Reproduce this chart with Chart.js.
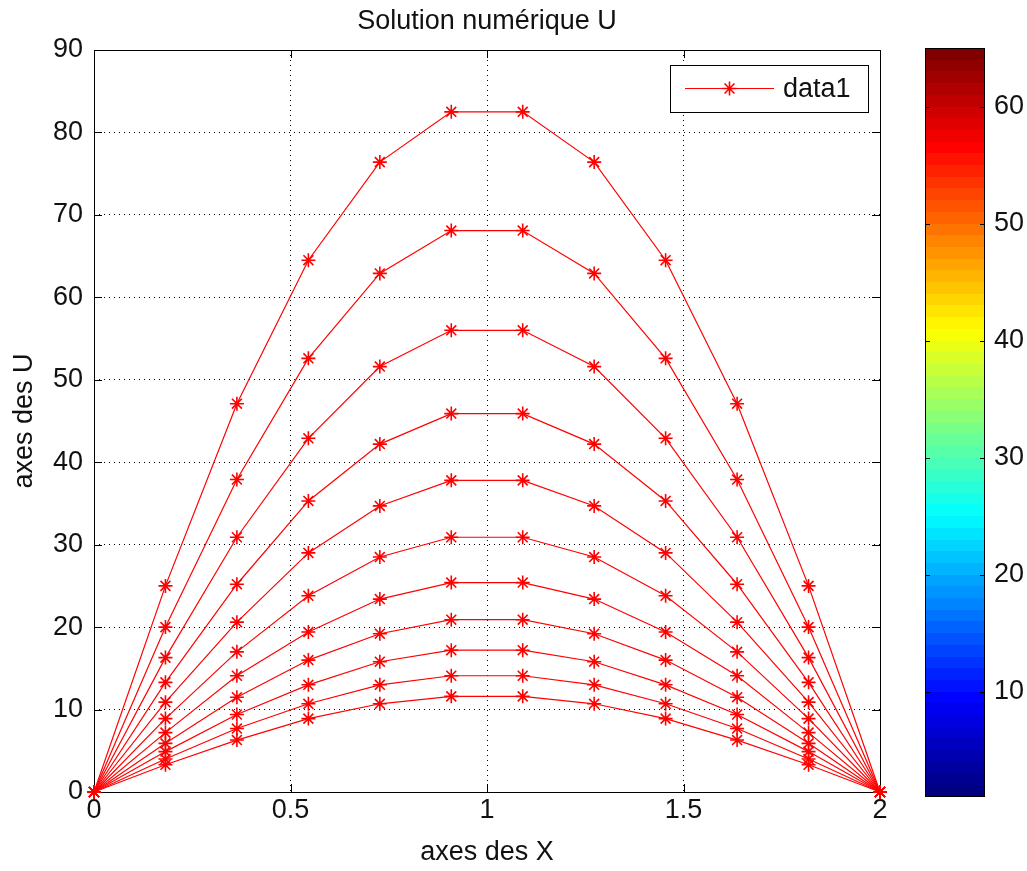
<!DOCTYPE html>
<html>
<head>
<meta charset="utf-8">
<script src="https://cdn.jsdelivr.net/npm/chart.js@4.4.1/dist/chart.umd.min.js"></script>
<style>
  html, body { margin: 0; padding: 0; background: #fff; }
  #wrap { position: relative; width: 1027px; height: 871px; }
  #mainChart { position: absolute; left: 0; top: 0; }
  #colorBar { position: absolute; left: 900px; top: 0; }
</style>
</head>
<body>
<div id="wrap">
  <canvas id="mainChart" width="1027" height="871"></canvas>
  <canvas id="colorBar" width="127" height="871"></canvas>
</div>
<script>
// x grid of the scheme
const xValues = [0, 0.1818, 0.3636, 0.5455, 0.7273, 0.9091, 1.0909, 1.2727, 1.4545, 1.6364, 1.8182, 2];

// U profiles, one per time step
const u1  = [0, 25.0, 47.1, 64.5, 76.4, 82.5, 82.5, 76.4, 64.5, 47.1, 25.0, 0];
const u2  = [0, 20.0, 37.9, 52.6, 62.9, 68.1, 68.1, 62.9, 52.6, 37.9, 20.0, 0];
const u3  = [0, 16.3, 30.9, 42.9, 51.6, 56.0, 56.0, 51.6, 42.9, 30.9, 16.3, 0];
const u4  = [0, 13.3, 25.2, 35.3, 42.2, 45.9, 45.9, 42.2, 35.3, 25.2, 13.3, 0];
const u5  = [0, 10.9, 20.6, 29.0, 34.7, 37.8, 37.8, 34.7, 29.0, 20.6, 10.9, 0];
const u6  = [0, 8.9, 17.0, 23.8, 28.5, 30.9, 30.9, 28.5, 23.8, 17.0, 8.9, 0];
const u7  = [0, 7.2, 14.1, 19.4, 23.4, 25.4, 25.4, 23.4, 19.4, 14.1, 7.2, 0];
const u8  = [0, 5.9, 11.5, 16.0, 19.2, 20.9, 20.9, 19.2, 16.0, 11.5, 5.9, 0];
const u9  = [0, 4.9, 9.4, 13.0, 15.8, 17.2, 17.2, 15.8, 13.0, 9.4, 4.9, 0];
const u10 = [0, 4.0, 7.7, 10.7, 13.0, 14.1, 14.1, 13.0, 10.7, 7.7, 4.0, 0];
const u11 = [0, 3.3, 6.3, 8.9, 10.7, 11.6, 11.6, 10.7, 8.9, 6.3, 3.3, 0];
const curves = [u1, u2, u3, u4, u5, u6, u7, u8, u9, u10, u11];

const xTicks = [0, 0.5, 1, 1.5, 2];
const yTicks = [0, 10, 20, 30, 40, 50, 60, 70, 80, 90];
const colorbarRange = [1, 65];
const colorbarTicks = [10, 20, 30, 40, 50, 60];

const FONT = "'Liberation Sans', Arial, Helvetica, sans-serif";
const TEXT = '#111';
const RED = 'rgb(255,0,0)';

Chart.defaults.font.family = FONT;
Chart.defaults.color = TEXT;

function jetColor(t) {
  const c = v => Math.round(255 * Math.min(1, Math.max(0, v)));
  return `rgb(${c(1.5 - Math.abs(4 * t - 3))},${c(1.5 - Math.abs(4 * t - 2))},${c(1.5 - Math.abs(4 * t - 1))})`;
}

function drawStar(ctx, x, y, r) {
  const d = r * Math.SQRT1_2;
  ctx.beginPath();
  ctx.moveTo(x - r, y); ctx.lineTo(x + r, y);
  ctx.moveTo(x, y - r); ctx.lineTo(x, y + r);
  ctx.moveTo(x - d, y - d); ctx.lineTo(x + d, y + d);
  ctx.moveTo(x - d, y + d); ctx.lineTo(x + d, y - d);
  ctx.stroke();
}

// axes box with inward ticks on all four sides
const boxPlugin = {
  id: 'box',
  beforeDatasetsDraw(chart) {
    const {ctx, chartArea: a, scales} = chart;
    ctx.save();
    ctx.strokeStyle = '#000';
    ctx.lineWidth = 1;
    ctx.strokeRect(a.left + 0.5, a.top + 0.5, a.right - a.left, a.bottom - a.top);
    ctx.beginPath();
    xTicks.forEach(v => {
      const px = Math.round(scales.x.getPixelForValue(v)) + 0.5;
      ctx.moveTo(px, a.bottom); ctx.lineTo(px, a.bottom - 8);
      ctx.moveTo(px, a.top); ctx.lineTo(px, a.top + 8);
    });
    yTicks.forEach(v => {
      const py = Math.round(scales.y.getPixelForValue(v)) + 0.5;
      ctx.moveTo(a.left, py); ctx.lineTo(a.left + 8, py);
      ctx.moveTo(a.right, py); ctx.lineTo(a.right - 8, py);
    });
    ctx.stroke();
    ctx.restore();
  }
};

// MATLAB style legend box in the upper right corner
const legendBoxPlugin = {
  id: 'legendBox',
  afterDraw(chart) {
    const {ctx} = chart;
    const x = 670, y = 65, w = 198, h = 47;
    ctx.save();
    ctx.fillStyle = '#fff';
    ctx.fillRect(x, y, w, h);
    ctx.strokeStyle = '#000';
    ctx.lineWidth = 1;
    ctx.strokeRect(x + 0.5, y + 0.5, w, h);
    const my = y + h / 2;
    ctx.strokeStyle = RED;
    ctx.lineWidth = 1.2;
    ctx.beginPath();
    ctx.moveTo(685, my); ctx.lineTo(774, my);
    ctx.stroke();
    ctx.lineWidth = 1.6;
    drawStar(ctx, 729.5, my, 7);
    ctx.fillStyle = TEXT;
    ctx.font = `27px ${FONT}`;
    ctx.textBaseline = 'middle';
    ctx.fillText(chart.data.datasets[0].label, 783, my + 1);
    ctx.restore();
  }
};

new Chart(document.getElementById('mainChart'), {
  type: 'line',
  data: {
    datasets: curves.map((u, i) => ({
      label: 'data' + (i + 1),
      data: xValues.map((x, j) => ({x: x, y: u[j]})),
      borderColor: RED,
      backgroundColor: RED,
      borderWidth: 1.2,
      pointStyle: 'star',
      pointRadius: 7,
      pointBorderColor: RED,
      pointBorderWidth: 1.6,
      clip: false,
    }))
  },
  options: {
    responsive: false,
    animation: false,
    events: [],
    layout: { padding: { left: 0, right: 147, top: 0, bottom: 0 } },
    plugins: {
      legend: { display: false },
      tooltip: { enabled: false },
      title: {
        display: true,
        text: 'Solution numérique U',
        fullSize: false,
        color: TEXT,
        font: { size: 27, weight: 'normal' },
        padding: { top: 5.5, bottom: 12.1 },
      },
    },
    scales: {
      x: {
        type: 'linear',
        min: 0,
        max: 2,
        afterBuildTicks: s => { s.ticks = xTicks.map(v => ({value: v})); },
        afterFit: s => { s.height = 79; },
        grid: { color: '#000', lineWidth: 1, drawTicks: false },
        border: { display: false, dash: [1, 4] },
        ticks: { font: { size: 27 }, color: TEXT, padding: 2, maxRotation: 0, callback: v => String(v) },
        title: { display: true, text: 'axes des X', color: TEXT, font: { size: 27 }, padding: { top: 0, bottom: 1.8 } },
      },
      y: {
        min: 0,
        max: 90,
        afterBuildTicks: s => { s.ticks = yTicks.map(v => ({value: v})); },
        afterFit: s => { s.width = 94; },
        grid: { color: '#000', lineWidth: 1, drawTicks: false },
        border: { display: false, dash: [1, 4] },
        ticks: { font: { size: 27 }, color: TEXT, padding: 11, callback: v => String(v) },
        title: { display: true, text: 'axes des U', color: TEXT, font: { size: 27 }, padding: { top: 8.8, bottom: 0 } },
      },
    },
  },
  plugins: [boxPlugin, legendBoxPlugin],
});

// colour bar: one floating bar painted with the jet colormap
const colorBarFrame = {
  id: 'colorBarFrame',
  afterDatasetsDraw(chart) {
    const {ctx, chartArea: a, scales} = chart;
    ctx.save();
    ctx.strokeStyle = '#000';
    ctx.lineWidth = 1;
    ctx.strokeRect(a.left + 0.5, a.top + 0.5, a.right - a.left - 1, a.bottom - a.top - 1);
    ctx.beginPath();
    colorbarTicks.forEach(v => {
      const py = Math.round(scales.y.getPixelForValue(v)) + 0.5;
      ctx.moveTo(a.left, py); ctx.lineTo(a.left + 5, py);
      ctx.moveTo(a.right, py); ctx.lineTo(a.right - 5, py);
    });
    ctx.stroke();
    ctx.restore();
  }
};

new Chart(document.getElementById('colorBar'), {
  type: 'bar',
  data: {
    labels: [''],
    datasets: [{
      data: [colorbarRange],
      borderWidth: 0,
      barPercentage: 1,
      categoryPercentage: 1,
      backgroundColor: ctx => {
        const area = ctx.chart.chartArea;
        if (!area) return 'blue';
        const g = ctx.chart.ctx.createLinearGradient(0, area.bottom, 0, area.top);
        for (let i = 0; i < 64; i++) {
          const col = jetColor(i / 63);
          g.addColorStop(i / 64, col);
          g.addColorStop((i + 1) / 64, col);
        }
        return g;
      },
    }]
  },
  options: {
    responsive: false,
    animation: false,
    events: [],
    layout: { padding: { left: 25, right: 0, top: 48, bottom: 74 } },
    plugins: { legend: { display: false }, tooltip: { enabled: false } },
    scales: {
      x: { display: false },
      y: {
        position: 'right',
        min: colorbarRange[0],
        max: colorbarRange[1],
        afterBuildTicks: s => { s.ticks = colorbarTicks.map(v => ({value: v})); },
        afterFit: s => { s.width = 42; },
        grid: { display: false, drawTicks: false },
        border: { display: false },
        ticks: { font: { size: 27 }, color: TEXT, padding: 9 },
      },
    },
  },
  plugins: [colorBarFrame],
});
</script>
</body>
</html>
